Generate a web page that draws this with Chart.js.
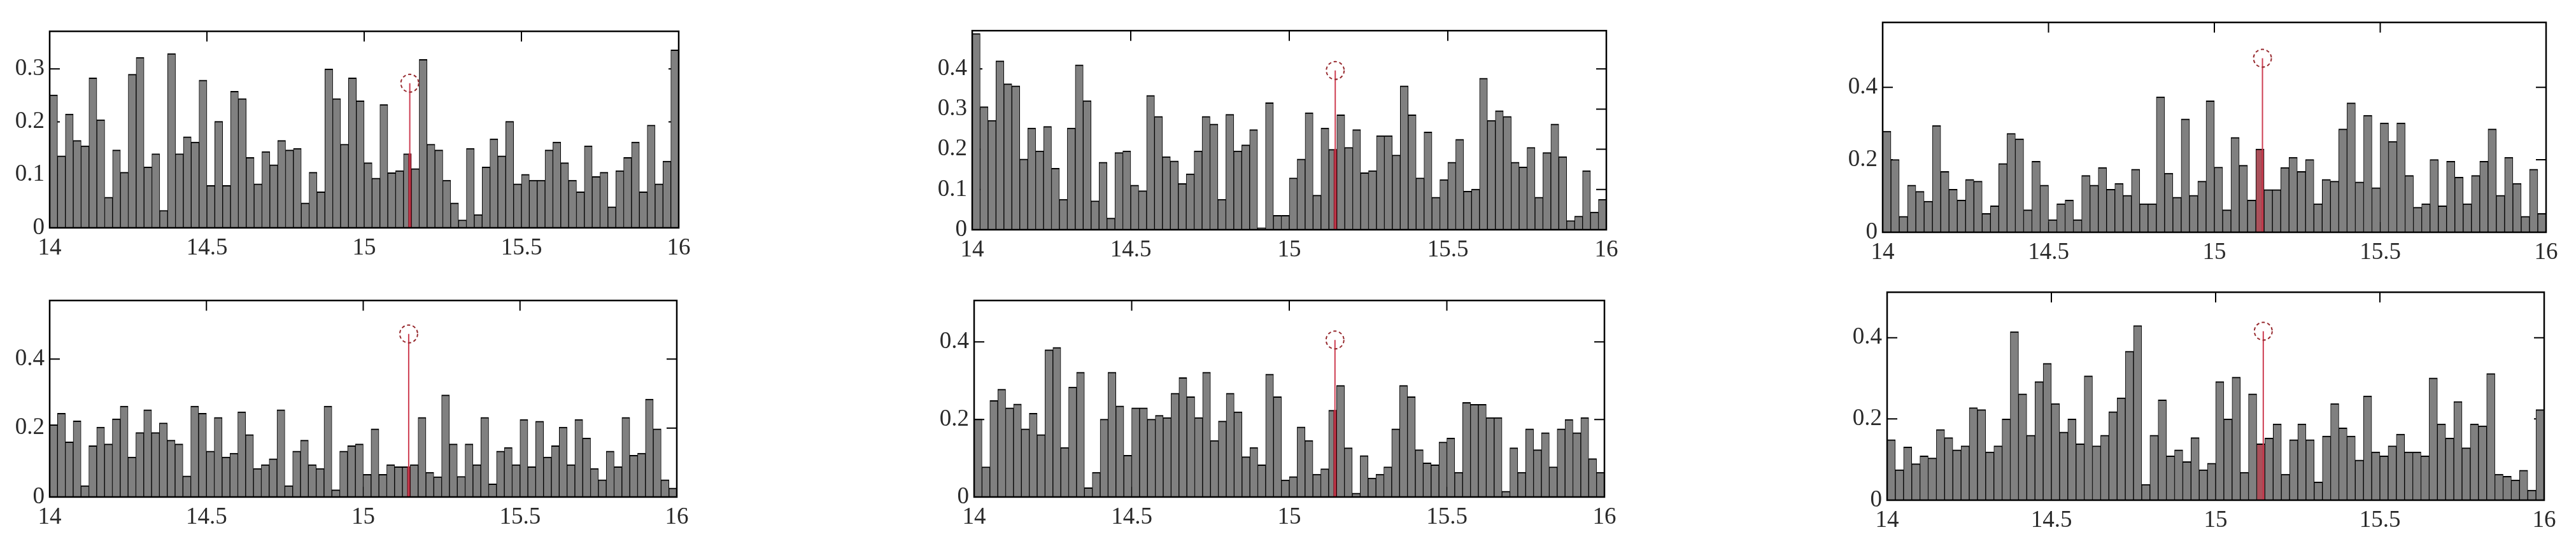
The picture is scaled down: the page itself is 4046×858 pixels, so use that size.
<!DOCTYPE html>
<html lang="en">

<head>
    <meta charset="UTF-8">
    <script src="https://cdn.jsdelivr.net/npm/chart.js"></script>
    <title>Histograms 14 - 16</title>
    <style>
        html, body { margin: 0; padding: 0; background: #fff; }
        body { position: relative; width: 4046px; height: 858px; overflow: hidden; }
        canvas { position: absolute; }
    </style>
</head>

<body>
    <script>
        // bins of width 0.025 between 14 and 16 (80 per panel)
        const binCentres = Array.from({ length: 80 }, (_, i) => 14.0125 + i * 0.025);

        const topLeft = [
            0.251, 0.136, 0.215, 0.165, 0.155, 0.283, 0.204, 0.058, 0.147, 0.105,
            0.290, 0.322, 0.115, 0.140, 0.033, 0.329, 0.140, 0.172, 0.162, 0.279,
            0.080, 0.201, 0.080, 0.258, 0.244, 0.133, 0.083, 0.144, 0.119, 0.165,
            0.147, 0.150, 0.047, 0.105, 0.068, 0.300, 0.244, 0.158, 0.283, 0.240,
            0.123, 0.094, 0.233, 0.104, 0.108, 0.140, 0.112, 0.318, 0.158, 0.147,
            0.090, 0.047, 0.015, 0.150, 0.025, 0.115, 0.168, 0.136, 0.201, 0.083,
            0.101, 0.090, 0.090, 0.147, 0.162, 0.123, 0.090, 0.068, 0.155, 0.097,
            0.105, 0.040, 0.108, 0.133, 0.162, 0.068, 0.194, 0.083, 0.126, 0.336
        ];
        const topMiddle = [
            0.488, 0.306, 0.272, 0.420, 0.363, 0.358, 0.176, 0.253, 0.196, 0.257,
            0.153, 0.076, 0.253, 0.410, 0.321, 0.072, 0.168, 0.029, 0.192, 0.196,
            0.111, 0.097, 0.334, 0.282, 0.182, 0.171, 0.115, 0.139, 0.196, 0.282,
            0.263, 0.076, 0.287, 0.196, 0.211, 0.249, 0.005, 0.316, 0.036, 0.036,
            0.129, 0.176, 0.291, 0.086, 0.253, 0.200, 0.286, 0.205, 0.249, 0.142,
            0.147, 0.234, 0.234, 0.186, 0.358, 0.286, 0.129, 0.243, 0.081, 0.125,
            0.168, 0.225, 0.096, 0.101, 0.377, 0.272, 0.296, 0.282, 0.168, 0.156,
            0.205, 0.081, 0.192, 0.263, 0.182, 0.023, 0.034, 0.147, 0.044, 0.076
        ];
        const topRight = [
            0.279, 0.201, 0.044, 0.130, 0.113, 0.086, 0.295, 0.168, 0.119, 0.089,
            0.146, 0.141, 0.052, 0.073, 0.190, 0.273, 0.258, 0.062, 0.196, 0.130,
            0.035, 0.079, 0.089, 0.035, 0.157, 0.130, 0.179, 0.119, 0.135, 0.102,
            0.174, 0.079, 0.079, 0.374, 0.163, 0.097, 0.313, 0.102, 0.141, 0.363,
            0.180, 0.062, 0.262, 0.185, 0.089, 0.230, 0.118, 0.118, 0.179, 0.207,
            0.168, 0.201, 0.079, 0.146, 0.141, 0.285, 0.357, 0.139, 0.323, 0.123,
            0.302, 0.251, 0.302, 0.157, 0.069, 0.079, 0.201, 0.073, 0.196, 0.152,
            0.079, 0.157, 0.196, 0.285, 0.102, 0.207, 0.135, 0.044, 0.174, 0.052
        ];
        const bottomLeft = [
            0.210, 0.243, 0.160, 0.221, 0.033, 0.149, 0.203, 0.154, 0.227, 0.264,
            0.116, 0.187, 0.253, 0.187, 0.215, 0.165, 0.154, 0.061, 0.264, 0.243,
            0.133, 0.231, 0.116, 0.127, 0.247, 0.181, 0.083, 0.094, 0.111, 0.253,
            0.033, 0.133, 0.165, 0.094, 0.083, 0.264, 0.021, 0.133, 0.149, 0.154,
            0.066, 0.198, 0.066, 0.094, 0.088, 0.088, 0.094, 0.231, 0.072, 0.059,
            0.296, 0.154, 0.060, 0.154, 0.094, 0.231, 0.038, 0.133, 0.144, 0.094,
            0.225, 0.088, 0.220, 0.116, 0.149, 0.203, 0.094, 0.225, 0.171, 0.083,
            0.050, 0.133, 0.088, 0.231, 0.121, 0.127, 0.284, 0.198, 0.050, 0.026
        ];
        const bottomMiddle = [
            0.201, 0.078, 0.249, 0.278, 0.230, 0.240, 0.176, 0.216, 0.161, 0.380,
            0.386, 0.128, 0.284, 0.322, 0.024, 0.064, 0.201, 0.322, 0.235, 0.108,
            0.230, 0.230, 0.201, 0.211, 0.205, 0.268, 0.308, 0.259, 0.205, 0.322,
            0.146, 0.196, 0.268, 0.220, 0.104, 0.128, 0.083, 0.317, 0.259, 0.044,
            0.053, 0.181, 0.146, 0.059, 0.073, 0.224, 0.288, 0.127, 0.010, 0.107,
            0.049, 0.059, 0.078, 0.176, 0.288, 0.259, 0.122, 0.088, 0.083, 0.142,
            0.152, 0.064, 0.244, 0.239, 0.239, 0.205, 0.205, 0.015, 0.127, 0.064,
            0.176, 0.122, 0.166, 0.078, 0.176, 0.200, 0.166, 0.205, 0.099, 0.064
        ];
        const bottomRight = [
            0.149, 0.075, 0.131, 0.090, 0.109, 0.104, 0.174, 0.154, 0.124, 0.134,
            0.228, 0.223, 0.119, 0.134, 0.200, 0.415, 0.262, 0.160, 0.292, 0.337,
            0.238, 0.168, 0.200, 0.139, 0.306, 0.134, 0.160, 0.218, 0.252, 0.367,
            0.430, 0.039, 0.160, 0.247, 0.109, 0.124, 0.095, 0.154, 0.075, 0.091,
            0.292, 0.200, 0.303, 0.069, 0.262, 0.139, 0.153, 0.188, 0.064, 0.149,
            0.188, 0.149, 0.045, 0.158, 0.238, 0.178, 0.158, 0.099, 0.257, 0.119,
            0.109, 0.134, 0.163, 0.119, 0.119, 0.109, 0.301, 0.188, 0.153, 0.243,
            0.129, 0.188, 0.183, 0.312, 0.064, 0.059, 0.050, 0.074, 0.025, 0.223
        ];

        // red marker: position and peak height per panel
        const markerX = 15.145;
        const markerPeaks = [0.273, 0.396, 0.480, 0.473, 0.405, 0.416];

        // axes
        const xTickValues = [14, 14.5, 15, 15.5, 16];
        const xTickLabels = ['14', '14.5', '15', '15.5', '16'];
        const yMax = [0.371, 0.495, 0.579, 0.570, 0.507, 0.512];
        const yTickValues = [
            [0, 0.1, 0.2, 0.3],
            [0, 0.1, 0.2, 0.3, 0.4],
            [0, 0.2, 0.4],
            [0, 0.2, 0.4],
            [0, 0.2, 0.4],
            [0, 0.2, 0.4]
        ];
        const yTickLabels = [
            ['0', '0.1', '0.2', '0.3'],
            ['0', '0.1', '0.2', '0.3', '0.4'],
            ['0', '0.2', '0.4'],
            ['0', '0.2', '0.4'],
            ['0', '0.2', '0.4'],
            ['0', '0.2', '0.4']
        ];

        const panelValues = [topLeft, topMiddle, topRight, bottomLeft, bottomMiddle, bottomRight];

        // plot area of every panel on the page (px)
        const plotBoxes = [
            { left: 78, top: 29, width: 988, height: 329 },
            { left: 1527, top: 28, width: 996, height: 333 },
            { left: 2957, top: 15, width: 1042, height: 350 },
            { left: 78, top: 452, width: 985, height: 329 },
            { left: 1530, top: 452, width: 990, height: 329 },
            { left: 2964, top: 439, width: 1032, height: 347 }
        ];
        const fullBarHighlight = [false, false, true, false, false, true];

        const LEFT_AXIS = 76;
        const TOP_PAD = 10;
        const RIGHT_PAD = 40;
        const BOTTOM_AXIS = 60;
        const TICK = 16;

        Chart.defaults.font.family = "'Liberation Serif', 'DejaVu Serif', serif";
        Chart.defaults.font.size = 37;
        Chart.defaults.color = '#2a2a2a';

        // box around plot, inward ticks on all four sides, dashed circle
        const framePlugin = {
            id: 'frame',
            beforeDatasetsDraw(chart) {
                const { ctx, chartArea: a, scales: { x, y } } = chart;
                ctx.save();
                ctx.strokeStyle = '#000';
                ctx.lineWidth = 2;
                ctx.beginPath();
                x.ticks.forEach(t => {
                    const px = x.getPixelForValue(t.value);
                    if (px <= a.left + 1 || px >= a.right - 1) return;
                    ctx.moveTo(px, a.top); ctx.lineTo(px, a.top + TICK);
                    ctx.moveTo(px, a.bottom); ctx.lineTo(px, a.bottom - TICK);
                });
                y.ticks.forEach(t => {
                    const py = y.getPixelForValue(t.value);
                    if (py >= a.bottom - 1) return;
                    ctx.moveTo(a.left, py); ctx.lineTo(a.left + TICK, py);
                    ctx.moveTo(a.right, py); ctx.lineTo(a.right - TICK, py);
                });
                ctx.stroke();
                ctx.restore();
            },
            afterDatasetsDraw(chart) {
                const { ctx, chartArea: a } = chart;
                ctx.save();
                ctx.strokeStyle = '#000';
                ctx.lineWidth = 2.5;
                ctx.strokeRect(a.left, a.top, a.right - a.left, a.bottom - a.top);
                ctx.restore();
            },
            beforeDatasetDraw(chart, args) {
                if (chart.data.datasets[args.index].dashed) chart.ctx.setLineDash([5, 4]);
            },
            afterDatasetDraw(chart, args) {
                if (chart.data.datasets[args.index].dashed) chart.ctx.setLineDash([]);
            }
        };

        panelValues.forEach((values, p) => {
            const box = plotBoxes[p];
            const canvas = document.createElement('canvas');
            canvas.width = box.width + LEFT_AXIS + RIGHT_PAD;
            canvas.height = box.height + TOP_PAD + BOTTOM_AXIS;
            canvas.style.left = (box.left - LEFT_AXIS) + 'px';
            canvas.style.top = (box.top - TOP_PAD) + 'px';
            document.body.appendChild(canvas);

            const markerBin = binCentres.findIndex(c => Math.abs(c - markerX) <= 0.0125);
            const barColours = values.map((_, i) =>
                fullBarHighlight[p] && i === markerBin ? 'rgb(170, 80, 90)' : 'rgb(128, 128, 128)');

            new Chart(canvas, {
                type: 'bar',
                data: {
                    datasets: [{
                        type: 'line',
                        data: [{ x: markerX, y: 0 }, { x: markerX, y: values[markerBin] }],
                        borderColor: 'rgba(140, 20, 35, 0.9)',
                        borderWidth: fullBarHighlight[p] ? 2 : 5,
                        pointRadius: 0,
                        order: 2
                    }, {
                        type: 'line',
                        data: [{ x: markerX, y: 0 }, { x: markerX, y: markerPeaks[p] }],
                        borderColor: 'rgb(205, 60, 80)',
                        borderWidth: 2,
                        pointRadius: 0,
                        order: 1
                    }, {
                        type: 'line',
                        dashed: true,
                        showLine: false,
                        data: [{ x: markerX, y: markerPeaks[p] }],
                        pointRadius: 14,
                        pointBorderWidth: 2,
                        pointBorderColor: 'rgb(150, 40, 45)',
                        pointBackgroundColor: 'rgba(0, 0, 0, 0)',
                        order: 0
                    }, {
                        type: 'bar',
                        data: binCentres.map((c, i) => ({ x: c, y: values[i] })),
                        backgroundColor: barColours,
                        borderColor: '#000',
                        borderWidth: { top: 2, left: 1, right: 1, bottom: 0 },
                        borderSkipped: false,
                        barPercentage: 1,
                        categoryPercentage: 1,
                        grouped: false,
                        order: 3
                    }]
                },
                options: {
                    responsive: false,
                    animation: false,
                    events: [],
                    layout: { padding: { left: 0, top: TOP_PAD, right: RIGHT_PAD, bottom: 0 } },
                    plugins: { legend: { display: false }, tooltip: { enabled: false } },
                    scales: {
                        x: {
                            type: 'linear',
                            min: 14,
                            max: 16,
                            offset: false,
                            grid: { display: false, drawTicks: false },
                            border: { display: false },
                            afterBuildTicks: scale => { scale.ticks = xTickValues.map(v => ({ value: v })); },
                            afterFit: scale => { scale.height = BOTTOM_AXIS; },
                            ticks: {
                                autoSkip: false,
                                maxRotation: 0,
                                padding: 10,
                                callback: (v, i) => xTickLabels[i]
                            }
                        },
                        y: {
                            min: 0,
                            max: yMax[p],
                            grid: { display: false, drawTicks: false },
                            border: { display: false },
                            afterBuildTicks: scale => { scale.ticks = yTickValues[p].map(v => ({ value: v })); },
                            afterFit: scale => { scale.width = LEFT_AXIS; },
                            ticks: {
                                autoSkip: false,
                                padding: 8,
                                callback: (v, i) => yTickLabels[p][i]
                            }
                        }
                    }
                },
                plugins: [framePlugin]
            });
        });
    </script>
</body>

</html>
